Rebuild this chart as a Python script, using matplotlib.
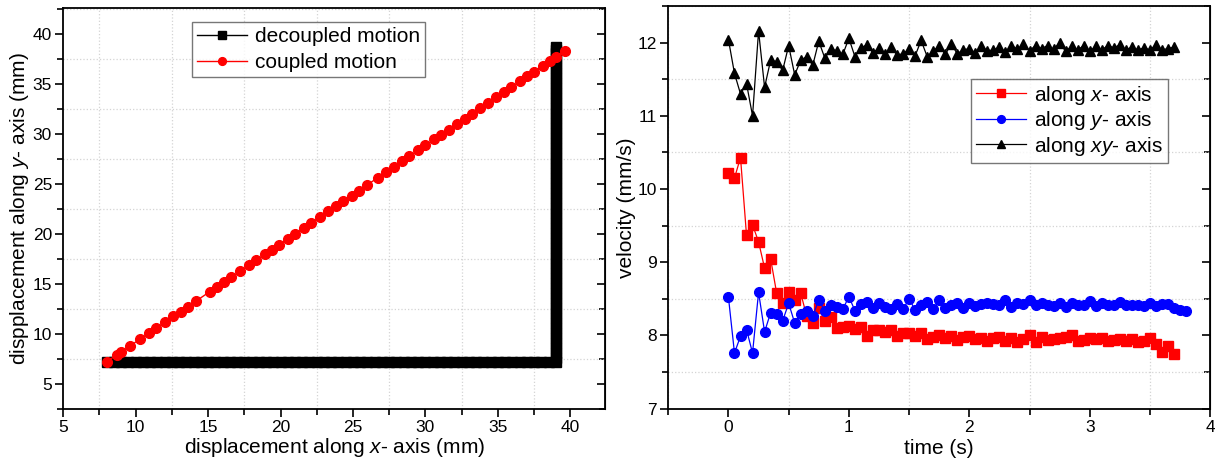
import matplotlib
matplotlib.use("Agg")
from matplotlib import pyplot as plt
from matplotlib.ticker import MultipleLocator

plt.rcParams['font.family'] = ['Liberation Sans', 'DejaVu Sans']
plt.rcParams['mathtext.fontset'] = 'custom'
plt.rcParams['mathtext.rm'] = 'Liberation Sans'
plt.rcParams['mathtext.it'] = 'Liberation Sans:italic'

## Grafico 1: deslocamento (mm)
decoupled_x = [8.0, 8.5, 9.0, 9.5, 10.0, 10.5, 11.0, 11.5, 12.0, 12.5, 13.0, 13.5, 14.0, 14.5,
               15.0, 15.5, 16.0, 16.5, 17.0, 17.5, 18.0, 18.5, 19.0, 19.5, 20.0, 20.5, 21.0,
               21.5, 22.0, 22.5, 23.0, 23.5, 24.0, 24.5, 25.0, 25.5, 26.0, 26.5, 27.0, 27.5,
               28.0, 28.5, 29.0, 29.5, 30.0, 30.5, 31.0, 31.5, 32.0, 32.5, 33.0, 33.5, 34.0,
               34.5, 35.0, 35.5, 36.0, 36.5, 37.0, 37.5, 38.0, 38.5, 39.0,
               39.03, 39.03, 39.03, 39.03, 39.03, 39.03, 39.03, 39.03, 39.03, 39.03, 39.03,
               39.03, 39.03, 39.03, 39.03, 39.03, 39.03, 39.03, 39.03, 39.03, 39.03, 39.03,
               39.03, 39.03, 39.03, 39.03, 39.03, 39.03, 39.03, 39.03, 39.03, 39.03, 39.03,
               39.03, 39.03, 39.03, 39.03, 39.03, 39.03, 39.03, 39.03, 39.03, 39.03, 39.03,
               39.03, 39.03, 39.03, 39.03, 39.03, 39.03, 39.03, 39.03, 39.03, 39.03, 39.03,
               39.03, 39.03, 39.03, 39.03, 39.03, 39.03, 39.03, 39.03, 39.03]
decoupled_y = [7.22, 7.22, 7.22, 7.22, 7.21, 7.21, 7.21, 7.21, 7.21, 7.2, 7.2, 7.2, 7.2, 7.2,
               7.2, 7.2, 7.2, 7.2, 7.2, 7.19, 7.19, 7.19, 7.19, 7.19, 7.18, 7.18, 7.18, 7.18,
               7.17, 7.17, 7.17, 7.17, 7.16, 7.16, 7.16, 7.15, 7.15, 7.15, 7.15, 7.15, 7.15,
               7.15, 7.15, 7.15, 7.16, 7.16, 7.16, 7.16, 7.16, 7.16, 7.16, 7.16, 7.16, 7.16,
               7.16, 7.16, 7.16, 7.16, 7.16, 7.16, 7.16, 7.16, 7.16,
               7.6, 8.1, 8.6, 9.1, 9.6, 10.1, 10.6, 11.1, 11.6, 12.1, 12.6, 13.1, 13.6, 14.1,
               14.6, 15.1, 15.6, 16.1, 16.6, 17.1, 17.6, 18.1, 18.6, 19.1, 19.6, 20.1, 20.6,
               21.1, 21.6, 22.1, 22.6, 23.1, 23.6, 24.1, 24.6, 25.1, 25.6, 26.1, 26.6, 27.1,
               27.6, 28.1, 28.6, 29.1, 29.6, 30.1, 30.6, 31.1, 31.6, 32.1, 32.6, 33.1, 33.6,
               34.1, 34.6, 35.1, 35.6, 36.1, 36.6, 37.1, 37.6, 38.1, 38.4, 38.7]

coupled_x = [8.0, 8.7, 9.0, 9.6, 10.3, 10.9, 11.4, 12.0, 12.6, 13.1, 13.6, 14.2, 15.1, 15.6,
             16.1, 16.6, 17.2, 17.8, 18.3, 18.9, 19.4, 19.9, 20.5, 21.0, 21.6, 22.1, 22.7,
             23.3, 23.8, 24.3, 24.9, 25.4, 26.0, 26.7, 27.3, 27.8, 28.4, 28.9, 29.5, 30.0,
             30.6, 31.1, 31.6, 32.2, 32.7, 33.2, 33.8, 34.3, 34.9, 35.4, 35.9, 36.5, 37.0,
             37.5, 38.1, 38.6, 39.0, 39.6]
coupled_y = [7.20, 7.89, 8.18, 8.77, 9.46, 10.05, 10.55, 11.14, 11.73, 12.22, 12.71, 13.30,
             14.19, 14.68, 15.17, 15.66, 16.25, 16.84, 17.34, 17.93, 18.42, 18.91, 19.50,
             19.99, 20.58, 21.07, 21.66, 22.26, 22.75, 23.24, 23.83, 24.32, 24.91, 25.60,
             26.19, 26.68, 27.27, 27.77, 28.36, 28.85, 29.44, 29.93, 30.42, 31.01, 31.50,
             32.00, 32.59, 33.08, 33.67, 34.16, 34.65, 35.24, 35.74, 36.23, 36.82, 37.31,
             37.70, 38.29]

## Grafico 2: velocidade (mm/s)
t_xy = [0, 0.05, 0.1, 0.15, 0.2, 0.25, 0.3, 0.35, 0.4, 0.45, 0.5, 0.55, 0.6, 0.65, 0.7,
        0.75, 0.8, 0.85, 0.9, 0.95, 1.0, 1.05, 1.1, 1.15, 1.2, 1.25, 1.3, 1.35, 1.4, 1.45,
        1.5, 1.55, 1.6, 1.65, 1.7, 1.75, 1.8, 1.85, 1.9, 1.95, 2.0, 2.05, 2.1, 2.15, 2.2,
        2.25, 2.3, 2.35, 2.4, 2.45, 2.5, 2.55, 2.6, 2.65, 2.7, 2.75, 2.8, 2.85, 2.9, 2.95,
        3.0, 3.05, 3.1, 3.15, 3.2, 3.25, 3.3, 3.35, 3.4, 3.45, 3.5, 3.55, 3.6, 3.65, 3.7]
t_y = t_xy + [3.75, 3.8]

vel_x = [10.22, 10.15, 10.43, 9.37, 9.51, 9.28, 8.92, 9.05, 8.58, 8.45, 8.59, 8.48, 8.58,
         8.26, 8.17, 8.37, 8.20, 8.25, 8.10, 8.12, 8.13, 8.09, 8.12, 7.99, 8.07, 8.08, 8.05,
         8.08, 7.99, 8.03, 8.03, 7.99, 8.03, 7.95, 7.98, 8.00, 7.96, 7.99, 7.94, 7.98, 7.99,
         7.95, 7.97, 7.93, 7.97, 7.98, 7.92, 7.97, 7.91, 7.95, 8.00, 7.91, 7.98, 7.94, 7.95,
         7.96, 7.98, 8.00, 7.93, 7.94, 7.96, 7.95, 7.96, 7.92, 7.94, 7.95, 7.93, 7.95, 7.91,
         7.92, 7.96, 7.89, 7.77, 7.85, 7.75]
vel_y = [8.52, 7.76, 7.99, 8.08, 7.76, 8.59, 8.05, 8.31, 8.30, 8.20, 8.44, 8.17, 8.30, 8.33,
         8.26, 8.49, 8.33, 8.41, 8.39, 8.36, 8.53, 8.34, 8.43, 8.46, 8.37, 8.45, 8.39, 8.36,
         8.43, 8.36, 8.50, 8.35, 8.42, 8.46, 8.36, 8.48, 8.37, 8.42, 8.44, 8.38, 8.45, 8.40,
         8.43, 8.44, 8.43, 8.41, 8.48, 8.39, 8.45, 8.43, 8.48, 8.41, 8.45, 8.42, 8.40, 8.45,
         8.39, 8.45, 8.42, 8.41, 8.47, 8.40, 8.44, 8.42, 8.41, 8.46, 8.41, 8.42, 8.42, 8.40,
         8.45, 8.40, 8.43, 8.43, 8.37, 8.35, 8.33]
vel_xy = [12.04, 11.58, 11.30, 11.44, 11.00, 12.16, 11.39, 11.76, 11.74, 11.62, 11.96, 11.56,
          11.76, 11.81, 11.69, 12.02, 11.79, 11.91, 11.89, 11.84, 12.06, 11.81, 11.93, 11.97,
          11.86, 11.93, 11.84, 11.94, 11.83, 11.85, 11.91, 11.82, 12.03, 11.81, 11.88, 11.96,
          11.84, 11.98, 11.85, 11.90, 11.92, 11.86, 11.95, 11.89, 11.90, 11.94, 11.87, 11.96,
          11.91, 11.98, 11.89, 11.96, 11.92, 11.96, 11.91, 12.00, 11.88, 11.95, 11.90, 11.96,
          11.88, 11.95, 11.90, 11.96, 11.93, 11.97, 11.90, 11.94, 11.90, 11.93, 11.90, 11.97,
          11.90, 11.92, 11.94]


def estilo_eixo(ax):
    ax.grid(which='minor', color='#d4d4d4', linestyle=':', linewidth=0.9)
    ax.grid(which='major', visible=False)
    ax.tick_params(which='both', direction='out', labelsize=12.5, width=1.2, pad=2)
    ax.tick_params(which='major', length=6)
    ax.tick_params(which='minor', length=4)
    for s in ax.spines.values():
        s.set_linewidth(1.3)
    dir_ax = ax.secondary_yaxis('right')
    dir_ax.tick_params(which='both', direction='in', labelright=False, width=1.2)
    dir_ax.tick_params(which='major', length=6)
    dir_ax.tick_params(which='minor', length=4)
    return dir_ax


def legenda(ax, ancora, espaco):
    leg = ax.legend(loc='upper left', bbox_to_anchor=ancora, fontsize=15, fancybox=False,
                    edgecolor='#555555', handlelength=2.4, handletextpad=0.35,
                    borderpad=0.25, labelspacing=espaco, borderaxespad=0, markerscale=0.8)
    leg.get_frame().set_linewidth(1.0)
    return leg


fig = plt.figure(figsize=(12.15, 4.66), dpi=100)
ax1 = fig.add_axes([0.052, 0.123, 0.446, 0.86])
ax2 = fig.add_axes([0.55, 0.123, 0.446, 0.864])

ax1.plot(decoupled_x, decoupled_y, color='black', marker='s', markersize=6.5, linewidth=1,
         label='decoupled motion')
ax1.plot(coupled_x, coupled_y, color='red', marker='o', markersize=7, linewidth=1,
         label='coupled motion')
ax1.set_xlim(5, 42.4)
ax1.set_ylim(2.5, 42.6)
ax1.xaxis.set_major_locator(MultipleLocator(5))
ax1.xaxis.set_minor_locator(MultipleLocator(2.5))
ax1.yaxis.set_major_locator(MultipleLocator(5))
ax1.yaxis.set_minor_locator(MultipleLocator(2.5))
s1 = estilo_eixo(ax1)
s1.yaxis.set_major_locator(MultipleLocator(5))
s1.yaxis.set_minor_locator(MultipleLocator(2.5))
ax1.set_xlabel('displacement along $\\it{x}$- axis (mm)', fontsize=15, labelpad=1)
ax1.set_ylabel('dispplacement along $\\it{y}$- axis (mm)', fontsize=15, labelpad=1)
legenda(ax1, (0.238, 0.965), 0.32)

ax2.plot(t_xy, vel_x, color='red', marker='s', markersize=6.5, linewidth=0.9,
         label='along $\\it{x}$- axis')
ax2.plot(t_y, vel_y, color='blue', marker='o', markersize=7, linewidth=0.9,
         label='along $\\it{y}$- axis')
ax2.plot(t_xy, vel_xy, color='black', marker='^', markersize=7.5, linewidth=0.9,
         label='along $\\it{xy}$- axis')
ax2.set_xlim(-0.5, 4)
ax2.set_ylim(7, 12.5)
ax2.xaxis.set_major_locator(MultipleLocator(1))
ax2.xaxis.set_minor_locator(MultipleLocator(0.5))
ax2.yaxis.set_major_locator(MultipleLocator(1))
ax2.yaxis.set_minor_locator(MultipleLocator(0.5))
s2 = estilo_eixo(ax2)
s2.yaxis.set_major_locator(MultipleLocator(1))
s2.yaxis.set_minor_locator(MultipleLocator(0.5))
ax2.set_xlabel('time (s)', fontsize=15, labelpad=3)
ax2.set_ylabel('velocity (mm/s)', fontsize=15, labelpad=1)
legenda(ax2, (0.559, 0.82), 0.12)

fig.savefig('out.png', dpi=100)
